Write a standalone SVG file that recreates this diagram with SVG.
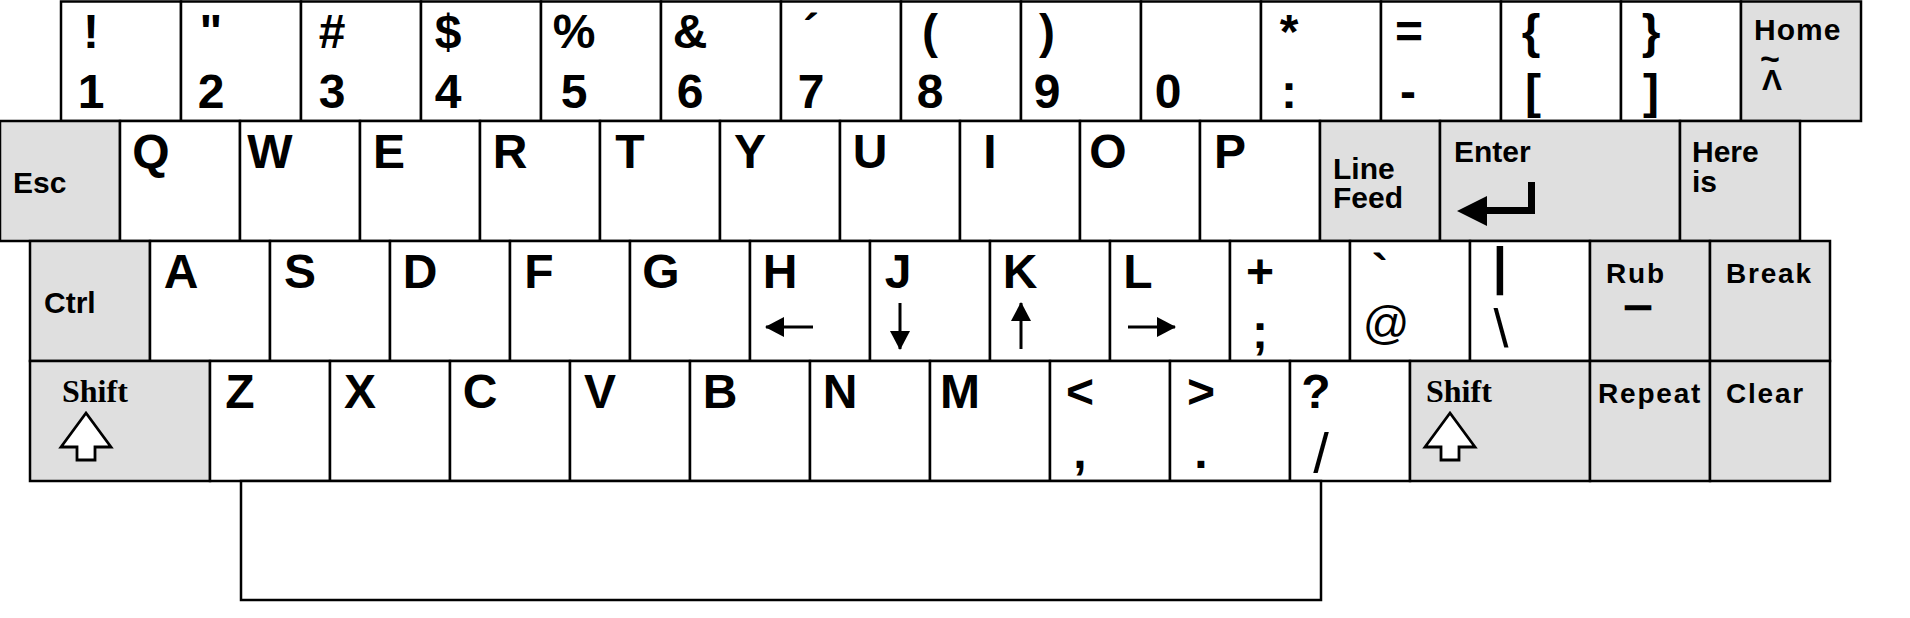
<svg xmlns="http://www.w3.org/2000/svg" width="1910" height="618" viewBox="0 0 1910 618">
<style>
.k{stroke:#000;stroke-width:2.5;fill:#fff}
.g{fill:#dfdfdf}
text{font-family:"Liberation Sans",Arial,Helvetica,sans-serif;font-weight:bold;fill:#000}
.c{font-size:48px;text-anchor:middle}
.n{font-weight:normal}
.l{font-size:30px}
.m{font-size:28px;letter-spacing:1.8px}
.s{font-family:"Liberation Serif","Times New Roman",serif;font-size:32px}
.ar{stroke:#000;stroke-width:3;fill:none}
.sh{stroke:#000;stroke-width:2.8;fill:#fff;stroke-linejoin:miter}
</style>
<defs>
<marker id="ah" markerUnits="userSpaceOnUse" markerWidth="20" markerHeight="22" refX="18" refY="10" orient="auto"><path d="M0,0 L19,10 L0,20 Z" fill="#000"/></marker>
<path id="shiftArrow" d="M0,0 L25,34 L9,34 L9,47 L-9,47 L-9,34 L-25,34 Z"/>
</defs>
<rect width="1910" height="618" fill="#fff"/>

<g id="row1">
<g id="key-1"><rect class="k" x="61" y="1.5" width="120" height="119.5"/><text class="c" x="91" y="48">!</text><text class="c" x="91" y="108">1</text></g>
<g id="key-2"><rect class="k" x="181" y="1.5" width="120" height="119.5"/><text class="c" x="211" y="48">"</text><text class="c" x="211" y="108">2</text></g>
<g id="key-3"><rect class="k" x="301" y="1.5" width="120" height="119.5"/><text class="c" x="332" y="48">#</text><text class="c" x="332" y="108">3</text></g>
<g id="key-4"><rect class="k" x="421" y="1.5" width="120" height="119.5"/><text class="c" x="448" y="48">$</text><text class="c" x="448" y="108">4</text></g>
<g id="key-5"><rect class="k" x="541" y="1.5" width="120" height="119.5"/><text class="c" x="574" y="48">%</text><text class="c" x="574" y="108">5</text></g>
<g id="key-6"><rect class="k" x="661" y="1.5" width="120" height="119.5"/><text class="c" x="690" y="48">&amp;</text><text class="c" x="690" y="108">6</text></g>
<g id="key-7"><rect class="k" x="781" y="1.5" width="120" height="119.5"/><text class="c" x="811" y="48">´</text><text class="c" x="811" y="108">7</text></g>
<g id="key-8"><rect class="k" x="901" y="1.5" width="120" height="119.5"/><text class="c" x="930" y="48">(</text><text class="c" x="930" y="108">8</text></g>
<g id="key-9"><rect class="k" x="1021" y="1.5" width="120" height="119.5"/><text class="c" x="1047" y="48">)</text><text class="c" x="1047" y="108">9</text></g>
<g id="key-0"><rect class="k" x="1141" y="1.5" width="120" height="119.5"/><text class="c" x="1168" y="108">0</text></g>
<g id="key-colon"><rect class="k" x="1261" y="1.5" width="120" height="119.5"/><text class="c" x="1289" y="48">*</text><text class="c" x="1289" y="108">:</text></g>
<g id="key-minus"><rect class="k" x="1381" y="1.5" width="120" height="119.5"/><text class="c" x="1409" y="48">=</text><text class="c" x="1408" y="108">-</text></g>
<g id="key-lbracket"><rect class="k" x="1501" y="1.5" width="120" height="119.5"/><text class="c" x="1531" y="48">{</text><text class="c" x="1533" y="108">[</text></g>
<g id="key-rbracket"><rect class="k" x="1621" y="1.5" width="120" height="119.5"/><text class="c" x="1651" y="48">}</text><text class="c" x="1651" y="108">]</text></g>
<g id="key-home"><rect class="k g" x="1741" y="1.5" width="120" height="119.5"/><text class="l" x="1754" y="40" style="letter-spacing:1px">Home<tspan x="1760" y="70" style="font-size:34px;letter-spacing:0">~</tspan><tspan x="1762" y="90" style="letter-spacing:0">Λ</tspan></text></g>
</g>

<g id="row2">
<g id="key-esc"><rect class="k g" x="0" y="121" width="120" height="120"/><text class="l" x="13" y="193">Esc</text></g>
<g id="key-q"><rect class="k" x="120" y="121" width="120" height="120"/><text class="c" x="151" y="168">Q</text></g>
<g id="key-w"><rect class="k" x="240" y="121" width="120" height="120"/><text class="c" x="270" y="168">W</text></g>
<g id="key-e"><rect class="k" x="360" y="121" width="120" height="120"/><text class="c" x="389" y="168">E</text></g>
<g id="key-r"><rect class="k" x="480" y="121" width="120" height="120"/><text class="c" x="510" y="168">R</text></g>
<g id="key-t"><rect class="k" x="600" y="121" width="120" height="120"/><text class="c" x="630" y="168">T</text></g>
<g id="key-y"><rect class="k" x="720" y="121" width="120" height="120"/><text class="c" x="750" y="168">Y</text></g>
<g id="key-u"><rect class="k" x="840" y="121" width="120" height="120"/><text class="c" x="870" y="168">U</text></g>
<g id="key-i"><rect class="k" x="960" y="121" width="120" height="120"/><text class="c" x="990" y="168">I</text></g>
<g id="key-o"><rect class="k" x="1080" y="121" width="120" height="120"/><text class="c" x="1108" y="168">O</text></g>
<g id="key-p"><rect class="k" x="1200" y="121" width="120" height="120"/><text class="c" x="1230" y="168">P</text></g>
<g id="key-linefeed"><rect class="k g" x="1320" y="121" width="120" height="120"/><text class="l" x="1333" y="179">Line</text><text class="l" x="1333" y="208">Feed</text></g>
<g id="key-enter"><rect class="k g" x="1440" y="121" width="240" height="120"/><text class="l" x="1454" y="162">Enter</text><path d="M1457,211 L1487,196 L1487,207 L1528,207 L1528,182 L1535,182 L1535,214 L1487,214 L1487,226 Z" fill="#000"/></g>
<g id="key-hereis"><rect class="k g" x="1680" y="121" width="120" height="120"/><text class="l" x="1692" y="162">Here</text><text class="l" x="1692" y="192">is</text></g>
</g>

<g id="row3">
<g id="key-ctrl"><rect class="k g" x="30" y="241" width="120" height="120"/><text class="l" x="44" y="313">Ctrl</text></g>
<g id="key-a"><rect class="k" x="150" y="241" width="120" height="120"/><text class="c" x="181" y="288">A</text></g>
<g id="key-s"><rect class="k" x="270" y="241" width="120" height="120"/><text class="c" x="300" y="288">S</text></g>
<g id="key-d"><rect class="k" x="390" y="241" width="120" height="120"/><text class="c" x="420" y="288">D</text></g>
<g id="key-f"><rect class="k" x="510" y="241" width="120" height="120"/><text class="c" x="539" y="288">F</text></g>
<g id="key-g"><rect class="k" x="630" y="241" width="120" height="120"/><text class="c" x="661" y="288">G</text></g>
<g id="key-h"><rect class="k" x="750" y="241" width="120" height="120"/><text class="c" x="780" y="288">H</text><line class="ar" x1="813" y1="327" x2="766" y2="327" marker-end="url(#ah)"/></g>
<g id="key-j"><rect class="k" x="870" y="241" width="120" height="120"/><text class="c" x="898" y="288">J</text><line class="ar" x1="900" y1="303" x2="900" y2="349" marker-end="url(#ah)"/></g>
<g id="key-k"><rect class="k" x="990" y="241" width="120" height="120"/><text class="c" x="1020" y="288">K</text><line class="ar" x1="1021" y1="349" x2="1021" y2="303" marker-end="url(#ah)"/></g>
<g id="key-l"><rect class="k" x="1110" y="241" width="120" height="120"/><text class="c" x="1138" y="288">L</text><line class="ar" x1="1128" y1="327" x2="1175" y2="327" marker-end="url(#ah)"/></g>
<g id="key-semicolon"><rect class="k" x="1230" y="241" width="120" height="120"/><text class="c" x="1260" y="288">+</text><text class="c" x="1260" y="348">;</text></g>
<g id="key-at"><rect class="k" x="1350" y="241" width="120" height="120"/><text class="c" x="1380" y="288">`</text><text class="c n" x="1386" y="339" style="font-size:46px">@</text></g>
<g id="key-backslash"><rect class="k" x="1470" y="241" width="120" height="120"/><text class="c" x="1500" y="284" style="font-size:51px">|</text><text class="c n" x="1501" y="347" style="font-size:54px">\</text></g>
<g id="key-rub"><rect class="k g" x="1590" y="241" width="120" height="120"/><text class="l m" x="1606" y="283">Rub</text><text x="1638" y="314" style="font-size:24px;text-anchor:middle;stroke:#000;stroke-width:2.6">—</text></g>
<g id="key-break"><rect class="k g" x="1710" y="241" width="120" height="120"/><text class="l m" x="1726" y="283">Break</text></g>
</g>

<g id="row4">
<g id="key-lshift"><rect class="k g" x="30" y="361" width="180" height="120"/><text class="s" x="62" y="402">Shift</text><use href="#shiftArrow" class="sh" transform="translate(86,413)"/></g>
<g id="key-z"><rect class="k" x="210" y="361" width="120" height="120"/><text class="c" x="240" y="408">Z</text></g>
<g id="key-x"><rect class="k" x="330" y="361" width="120" height="120"/><text class="c" x="360" y="408">X</text></g>
<g id="key-c"><rect class="k" x="450" y="361" width="120" height="120"/><text class="c" x="480" y="408">C</text></g>
<g id="key-v"><rect class="k" x="570" y="361" width="120" height="120"/><text class="c" x="600" y="408">V</text></g>
<g id="key-b"><rect class="k" x="690" y="361" width="120" height="120"/><text class="c" x="720" y="408">B</text></g>
<g id="key-n"><rect class="k" x="810" y="361" width="120" height="120"/><text class="c" x="840" y="408">N</text></g>
<g id="key-m"><rect class="k" x="930" y="361" width="120" height="120"/><text class="c" x="960" y="408">M</text></g>
<g id="key-comma"><rect class="k" x="1050" y="361" width="120" height="120"/><text class="c" x="1080" y="408">&lt;</text><text class="c" x="1080" y="468">,</text></g>
<g id="key-period"><rect class="k" x="1170" y="361" width="120" height="120"/><text class="c" x="1201" y="408">&gt;</text><text class="c" x="1201" y="468">.</text></g>
<g id="key-slash"><rect class="k" x="1290" y="361" width="120" height="120"/><text class="c" x="1316" y="408">?</text><text class="c n" x="1321" y="472" style="font-size:56px">/</text></g>
<g id="key-rshift"><rect class="k g" x="1410" y="361" width="180" height="120"/><text class="s" x="1426" y="402">Shift</text><use href="#shiftArrow" class="sh" transform="translate(1450,413)"/></g>
<g id="key-repeat"><rect class="k g" x="1590" y="361" width="120" height="120"/><text class="l m" x="1598" y="403">Repeat</text></g>
<g id="key-clear"><rect class="k g" x="1710" y="361" width="120" height="120"/><text class="l m" x="1726" y="403">Clear</text></g>
</g>

<g id="key-space"><rect class="k" x="241" y="481" width="1080" height="119"/></g>
<g id="connectors"/>
</svg>
